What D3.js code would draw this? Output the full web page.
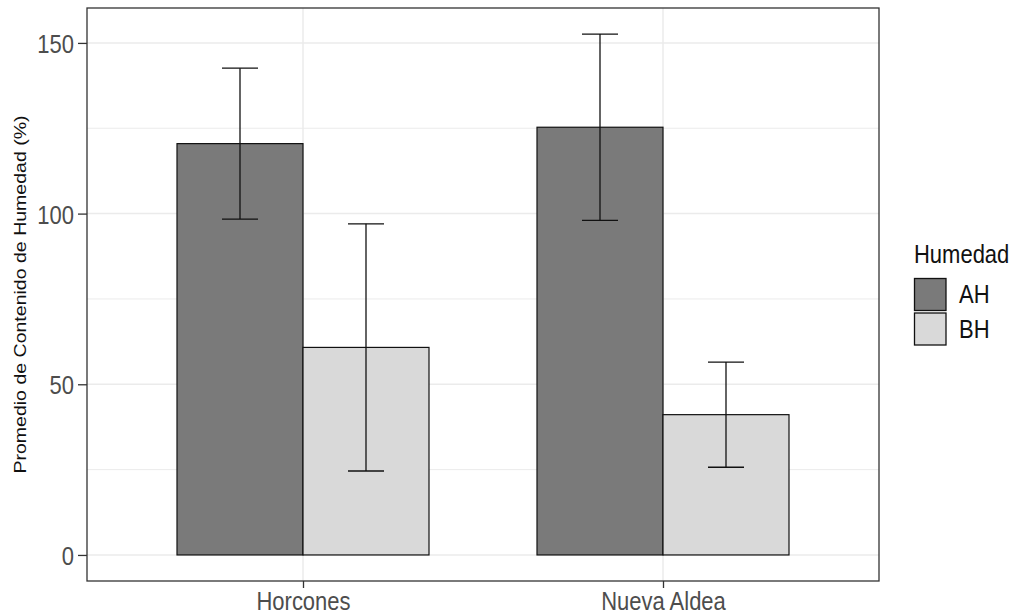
<!DOCTYPE html>
<html><head><meta charset="utf-8">
<script src="https://cdn.jsdelivr.net/npm/d3@7"></script>
<style>body{margin:0;background:#fff}text{font-family:"Liberation Sans",Arial,sans-serif}</style>
</head><body><svg id="c" width="1020" height="615"></svg>
<script>
const categories = ["Horcones", "Nueva Aldea"];
const groups = ["AH", "BH"];
const meanAH = [120.5, 125.3];
const errAH = [22.1, 27.3];
const meanBH = [60.8, 41.1];
const errBH = [36.2, 15.4];
const yTicks = [0, 50, 100, 150];
const yMinor = [25, 75, 125];
const colors = {AH: "#7a7a7a", BH: "#d9d9d9"};
const legendTitle = "Humedad";
const yTitle = "Promedio de Contenido de Humedad (%)";

const data = [];
categories.forEach((c, i) => {
  data.push({cat: c, g: "AH", mean: meanAH[i], err: errAH[i]});
  data.push({cat: c, g: "BH", mean: meanBH[i], err: errBH[i]});
});

const L = 87, R = 879, T = 8, B = 581;
const svg = d3.select("#c");
const SY = 1.15;

const ymaxData = d3.max(data, d => d.mean + d.err);
const pad = ymaxData * 0.05;
const y = d3.scaleLinear().domain([-pad, ymaxData + pad]).range([B, T]);
const x = d3.scalePoint().domain(categories).range([L, R]).padding(0.6);
const step = x.step();
const xg = d3.scaleBand().domain(groups).range([-0.35 * step, 0.35 * step]);

// panel background + grid
svg.append("rect").attr("x", L).attr("y", T).attr("width", R - L).attr("height", B - T).attr("fill", "#fff");
svg.selectAll(".gminor").data(yMinor).join("line")
  .attr("x1", L).attr("x2", R).attr("y1", d => y(d)).attr("y2", d => y(d))
  .attr("stroke", "#ebebeb").attr("stroke-width", 1);
svg.selectAll(".gmajor").data(yTicks).join("line")
  .attr("x1", L).attr("x2", R).attr("y1", d => y(d)).attr("y2", d => y(d))
  .attr("stroke", "#ebebeb").attr("stroke-width", 1.5);
svg.selectAll(".gx").data(categories).join("line")
  .attr("y1", T).attr("y2", B).attr("x1", d => x(d)).attr("x2", d => x(d))
  .attr("stroke", "#ebebeb").attr("stroke-width", 1.5);

// bars
svg.selectAll(".bar").data(data).join("rect")
  .attr("x", d => x(d.cat) + xg(d.g))
  .attr("width", xg.bandwidth())
  .attr("y", d => y(d.mean))
  .attr("height", d => y(0) - y(d.mean))
  .attr("fill", d => colors[d.g])
  .attr("stroke", "#111").attr("stroke-width", 1.2);

// error bars
const capHalf = 0.05 * step;
const eb = svg.selectAll(".eb").data(data).join("g")
  .attr("transform", d => `translate(${x(d.cat) + xg(d.g) + xg.bandwidth() / 2},0)`);
eb.append("line").attr("x1", 0).attr("x2", 0)
  .attr("y1", d => y(d.mean + d.err)).attr("y2", d => y(d.mean - d.err))
  .attr("stroke", "#111").attr("stroke-width", 1.3);
eb.append("line").attr("x1", -capHalf).attr("x2", capHalf)
  .attr("y1", d => y(d.mean + d.err)).attr("y2", d => y(d.mean + d.err))
  .attr("stroke", "#111").attr("stroke-width", 1.3);
eb.append("line").attr("x1", -capHalf).attr("x2", capHalf)
  .attr("y1", d => y(d.mean - d.err)).attr("y2", d => y(d.mean - d.err))
  .attr("stroke", "#111").attr("stroke-width", 1.3);

// panel border
svg.append("rect").attr("x", L).attr("y", T).attr("width", R - L).attr("height", B - T)
  .attr("fill", "none").attr("stroke", "#333").attr("stroke-width", 1.3);

// y axis
const yAxis = d3.axisLeft(y).tickValues(yTicks).tickSize(9).tickPadding(4);
const ya = svg.append("g").attr("transform", `translate(${L},0)`).call(yAxis);
ya.select(".domain").remove();
ya.selectAll(".tick line").attr("stroke", "#333").attr("stroke-width", 1.3);
ya.selectAll(".tick text").attr("fill", "#4d4d4d").attr("font-size", 22)
  .attr("dy", null).attr("y", 0)
  .attr("transform", `translate(0,9.5) scale(1,${SY})`);

// x axis
const xAxis = d3.axisBottom(x).tickSize(7).tickPadding(4);
const xa = svg.append("g").attr("transform", `translate(0,${B})`).call(xAxis);
xa.select(".domain").remove();
xa.selectAll(".tick line").attr("stroke", "#333").attr("stroke-width", 1.3);
xa.selectAll(".tick text").attr("fill", "#4d4d4d").attr("font-size", 22)
  .attr("dy", null).attr("y", 0)
  .attr("transform", `translate(0,29) scale(1,${SY})`);

// y title
svg.append("text").attr("transform", `translate(26,${(T + B) / 2}) rotate(-90) scale(${SY},1)`)
  .attr("text-anchor", "middle").attr("font-size", 17).attr("fill", "#111").text(yTitle);

// legend
const lg = svg.append("g");
lg.append("text").attr("transform", `translate(914,263) scale(1,${SY})`)
  .attr("font-size", 22).attr("fill", "#111").text(legendTitle);
const items = lg.selectAll(".li").data(groups).join("g")
  .attr("transform", (d, i) => `translate(914,${278 + i * 34.5})`);
items.append("rect").attr("x", 0.5).attr("y", 0.5).attr("width", 31.5).attr("height", 32)
  .attr("fill", d => colors[d]).attr("stroke", "#111").attr("stroke-width", 1.3);
items.append("text").attr("transform", `translate(45,25) scale(1,${SY})`)
  .attr("font-size", 22).attr("fill", "#111").text(d => d);
</script></body></html>
